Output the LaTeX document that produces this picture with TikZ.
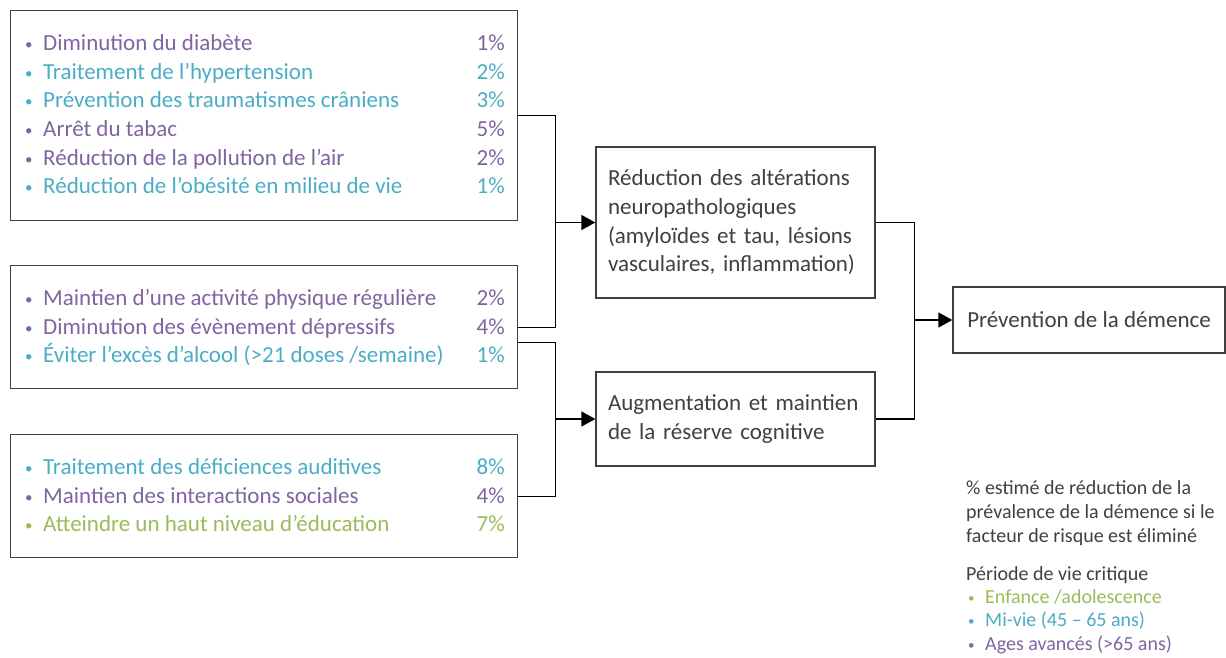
\documentclass[tikz,border=0pt]{standalone}
\usepackage{fontspec}
\setmainfont{Carlito}
\usetikzlibrary{arrows.meta}
\definecolor{lateage}{HTML}{8064A2}
\definecolor{midlife}{HTML}{4BACC6}
\definecolor{youth}{HTML}{9BBB59}
\definecolor{ink}{HTML}{404040}
\newcommand{\bul}{\makebox[18pt][l]{\raisebox{1pt}{\fontsize{15}{15}\selectfont •}}}
\newcommand{\kbul}{\makebox[17pt][l]{\raisebox{1pt}{\fontsize{13}{13}\selectfont •}}}

\begin{document}
\begin{tikzpicture}
[x=1pt, y=1pt,
group/.style={draw=ink, line width=1.3pt, anchor=north west, inner sep=0pt},
stage/.style={draw=ink, line width=1.3pt, text=ink, align=left, inner sep=12pt, font=\fontsize{23}{28.7}\selectfont},
item/.style={anchor=base west, inner sep=0pt, font=\fontsize{23}{28.7}\selectfont},
pct/.style={anchor=base east, inner sep=0pt, font=\fontsize{23}{28.7}\selectfont},
key/.style={anchor=base west, inner sep=0pt, font=\fontsize{20}{24}\selectfont},
link/.style={black, line width=1.3pt},
arrow/.style={link, -{Triangle[length=14pt, width=15pt]}}]
\useasboundingbox (0,0) rectangle (1226,-657);
% groups of risk factors
\node[group, minimum width=507, minimum height=210] (g1) at (10,-10) {};
\node[group, minimum width=507, minimum height=123] (g2) at (10,-265) {};
\node[group, minimum width=507, minimum height=123] (g3) at (10,-434) {};
% first group
\node[item, lateage] (a1) at (25,-50) {\bul Diminution du diabète};
\node[item, midlife] (a2) at (25,-79) {\bul Traitement de l’hypertension};
\node[item, midlife] (a3) at (25,-107) {\bul Prévention des traumatismes crâniens};
\node[item, lateage] (a4) at (25,-136) {\bul Arrêt du tabac};
\node[item, lateage] (a5) at (25,-165) {\bul Réduction de la pollution de l’air};
\node[item, midlife] (a6) at (25,-193) {\bul Réduction de l’obésité en milieu de vie};
\node[pct, lateage] (pa1) at (505,-50) {1\%};
\node[pct, midlife] (pa2) at (505,-79) {2\%};
\node[pct, midlife] (pa3) at (505,-107) {3\%};
\node[pct, lateage] (pa4) at (505,-136) {5\%};
\node[pct, lateage] (pa5) at (505,-165) {2\%};
\node[pct, midlife] (pa6) at (505,-193) {1\%};
% second group
\node[item, lateage] (b1) at (25,-305) {\bul Maintien d’une activité physique régulière};
\node[item, lateage] (b2) at (25,-334) {\bul Diminution des évènement dépressifs};
\node[item, midlife] (b3) at (25,-362) {\bul Éviter l’excès d’alcool (>21 doses /semaine)};
\node[pct, lateage] (pb1) at (505,-305) {2\%};
\node[pct, lateage] (pb2) at (505,-334) {4\%};
\node[pct, midlife] (pb3) at (505,-362) {1\%};
% third group
\node[item, midlife] (c1) at (25,-474) {\bul Traitement des déficiences auditives};
\node[item, lateage] (c2) at (25,-503) {\bul Maintien des interactions sociales};
\node[item, youth] (c3) at (25,-531) {\bul Atteindre un haut niveau d’éducation};
\node[pct, midlife] (pc1) at (505,-474) {8\%};
\node[pct, lateage] (pc2) at (505,-503) {4\%};
\node[pct, youth] (pc3) at (505,-531) {7\%};
% mechanisms and outcome
\node[stage, minimum width=279, minimum height=151, text width=255] (neuro) at (735.5,-222.5)
  {Réduction des altérations\\neuropathologiques\\(amyloïdes et tau, lésions\\vasculaires, inflammation)};
\node[stage, minimum width=279, minimum height=94, text width=255] (reserve) at (735.5,-419)
  {Augmentation et maintien\\de la réserve cognitive};
\node[stage, minimum width=272, minimum height=66] (prev) at (1089,-320)
  {Prévention de la démence};
% connectors
\coordinate (j1) at ([xshift=-40]neuro.west);
\coordinate (j2) at ([xshift=-40]reserve.west);
\coordinate (j3) at ([xshift=-38]prev.west);
\draw[link] (g1.east) -| (j1);
\draw[link] (g2.east) -| (j1);
\draw[arrow] (j1) -- (neuro.west);
\draw[link] ([yshift=-15]g2.east) -| (j2);
\draw[link] (g3.east) -| (j2);
\draw[arrow] (j2) -- (reserve.west);
\draw[link] (neuro.east) -| (j3);
\draw[link] (reserve.east) -| (j3);
\draw[arrow] (j3) -- (prev.west);
% legend
\node[key, ink] (k1) at (966,-494) {\% estimé de réduction de la};
\node[key, ink] (k2) at (966,-518) {prévalence de la démence si le};
\node[key, ink] (k3) at (966,-542) {facteur de risque est éliminé};
\node[key, ink] (k4) at (966,-580) {Période de vie critique};
\node[key, youth] (k5) at (968,-603) {\kbul Enfance /adolescence};
\node[key, midlife] (k6) at (968,-626) {\kbul Mi-vie (45 – 65 ans)};
\node[key, lateage] (k7) at (968,-650) {\kbul Ages avancés (>65 ans)};
\end{tikzpicture}
\end{document}
